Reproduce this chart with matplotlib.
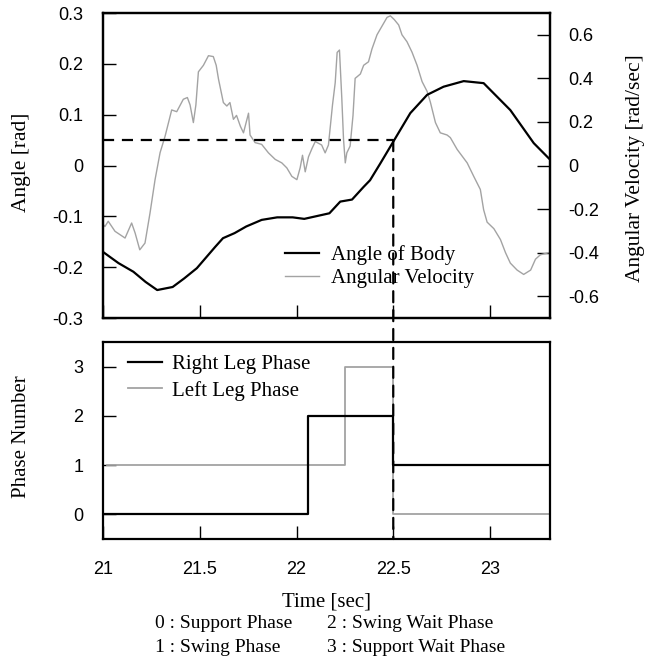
import matplotlib
matplotlib.use("Agg")
import matplotlib.pyplot as plt
from matplotlib.patches import ConnectionPatch

# Body angle [rad]
angle_t = [21.00, 21.08, 21.157, 21.22, 21.28, 21.36, 21.42, 21.485, 21.58, 21.62,
           21.68, 21.74, 21.82, 21.90, 21.98, 22.04, 22.17, 22.226, 22.287, 22.347,
           22.38, 22.433, 22.505, 22.588, 22.675, 22.76, 22.864, 22.967, 23.105, 23.226,
           23.304]
angle = [-0.170, -0.192, -0.209, -0.229, -0.245, -0.239, -0.222, -0.202, -0.160, -0.143,
         -0.133, -0.120, -0.107, -0.102, -0.102, -0.105, -0.094, -0.071, -0.067, -0.042,
         -0.029, 0.004, 0.050, 0.103, 0.139, 0.155, 0.166, 0.162, 0.109, 0.044,
         0.014]

# Angular velocity [rad/sec]
omega_t = [21.000, 21.010, 21.027, 21.062, 21.114, 21.148, 21.166, 21.190, 21.217, 21.243,
           21.269, 21.295, 21.321, 21.355, 21.381, 21.415, 21.436, 21.450, 21.467, 21.480,
           21.493, 21.519, 21.545, 21.570, 21.585, 21.597, 21.622, 21.640, 21.656, 21.674,
           21.690, 21.710, 21.726, 21.752, 21.760, 21.786, 21.820, 21.855, 21.890, 21.924,
           21.950, 21.976, 22.002, 22.019, 22.031, 22.045, 22.062, 22.080, 22.097, 22.130,
           22.148, 22.165, 22.186, 22.200, 22.210, 22.222, 22.234, 22.243, 22.252, 22.260,
           22.277, 22.292, 22.303, 22.330, 22.347, 22.372, 22.390, 22.416, 22.442, 22.468,
           22.485, 22.505, 22.528, 22.545, 22.571, 22.597, 22.623, 22.649, 22.675, 22.692,
           22.718, 22.743, 22.778, 22.795, 22.830, 22.882, 22.916, 22.950, 22.967, 22.985,
           23.020, 23.054, 23.080, 23.105, 23.140, 23.174, 23.210, 23.235, 23.260, 23.304]
omega = [-0.270, -0.280, -0.256, -0.302, -0.333, -0.264, -0.310, -0.387, -0.356, -0.218,
         -0.065, 0.059, 0.135, 0.255, 0.247, 0.304, 0.312, 0.278, 0.197, 0.278,
         0.430, 0.460, 0.504, 0.500, 0.460, 0.396, 0.289, 0.273, 0.289, 0.212,
         0.230, 0.180, 0.150, 0.240, 0.140, 0.105, 0.097, 0.058, 0.028, 0.012,
         -0.011, -0.050, -0.065, -0.010, 0.047, -0.029, 0.040, 0.078, 0.110, 0.094,
         0.058, 0.094, 0.278, 0.380, 0.519, 0.530, 0.310, 0.120, 0.012, 0.058,
         0.089, 0.230, 0.400, 0.420, 0.460, 0.476, 0.535, 0.600, 0.640, 0.680,
         0.687, 0.670, 0.645, 0.600, 0.568, 0.520, 0.460, 0.385, 0.340, 0.290,
         0.197, 0.150, 0.140, 0.128, 0.074, 0.012, -0.050, -0.110, -0.203, -0.260,
         -0.290, -0.340, -0.400, -0.448, -0.480, -0.500, -0.480, -0.430, -0.410, -0.400]

# Leg phase sequences (step changes)
right_t = [21.0, 22.06, 22.5, 23.31]
right_phase = [0, 2, 1, 1]
left_t = [21.02, 22.25, 22.5, 23.31]
left_phase = [1, 3, 0, 0]

# Marked instant
mark_t = 22.5
mark_angle = 0.05

angle_ticks = [-0.3, -0.2, -0.1, 0, 0.1, 0.2, 0.3]
angle_ticklabels = ["-0.3", "-0.2", "-0.1", "0", "0.1", "0.2", "0.3"]
omega_ticks = [-0.6, -0.4, -0.2, 0, 0.2, 0.4, 0.6]
omega_ticklabels = ["-0.6", "-0.4", "-0.2", "0", "0.2", "0.4", "0.6"]
time_ticks = [21, 21.5, 22, 22.5, 23]
time_ticklabels = ["21", "21.5", "22", "22.5", "23"]
phase_ticks = [0, 1, 2, 3]

SERIF = "Liberation Serif"
SANS = "Liberation Sans"
GRAY = "0.64"
TICK_FS = 13

fig = plt.figure(figsize=(6.46, 6.63), dpi=100)
W, H = 646, 663
AX_L, AX_R = 103, 550
AX_W = AX_R - AX_L


def box(l, t, r, b):
    return [l / W, 1 - b / H, (r - l) / W, (b - t) / H]


def ax_x(px):
    return (px - AX_L) / AX_W


ax1 = fig.add_axes(box(AX_L, 13, AX_R, 318))
ax2 = ax1.twinx()
ax3 = fig.add_axes(box(AX_L, 342, AX_R, 539))

for a in (ax1, ax2, ax3):
    for s in a.spines.values():
        s.set_linewidth(1.6)
    a.tick_params(direction="in", length=9.5, width=1.0, labelsize=TICK_FS)

xlim = (21, 23.31)

# --- top panel ---
ax1.set_xlim(*xlim)
ax1.set_ylim(-0.3, 0.3)
ax2.set_ylim(-0.7, 0.7)
ax1.set_xticks(time_ticks)
ax1.set_xticklabels([])
ax1.set_yticks(angle_ticks)
ax1.set_yticklabels(angle_ticklabels, fontfamily=SANS)
ax1.tick_params(axis="y", pad=14)
ax2.set_yticks(omega_ticks)
ax2.set_yticklabels(omega_ticklabels, fontfamily=SANS)
ax2.tick_params(axis="y", direction="in", length=9.5, width=1.0, pad=13,
                labelsize=TICK_FS)

l_ang, = ax1.plot(angle_t, angle, color="black", lw=1.6, zorder=3)
l_om, = ax2.plot(omega_t, omega, color=GRAY, lw=1.0, zorder=2)
ax1.set_zorder(ax2.get_zorder() + 1)
ax1.patch.set_visible(False)

ax1.plot([xlim[0], mark_t], [mark_angle, mark_angle], color="black", lw=1.6,
         dashes=(5, 3.5), zorder=4)

ax1.set_ylabel("Angle [rad]", fontfamily=SERIF, fontsize=15.5)
ax1.yaxis.set_label_coords(ax_x(31), 0.51)
ax2.set_ylabel("Angular Velocity [rad/sec]", fontfamily=SERIF, fontsize=15.5)
ax2.yaxis.set_label_coords(ax_x(626), 0.49)

ax1.legend([l_ang, l_om], ["Angle of Body", "Angular Velocity"],
           loc="upper left", bbox_to_anchor=(ax_x(285), 0.238), frameon=False,
           prop={"family": SERIF, "size": 15}, handlelength=1.65,
           handletextpad=0.55, labelspacing=0.15, borderaxespad=0, borderpad=0)

# --- bottom panel ---
ax3.set_xlim(*xlim)
ax3.set_ylim(-0.5, 3.5)
ax3.set_xticks(time_ticks)
ax3.set_xticklabels(time_ticklabels, fontfamily=SANS)
ax3.set_yticks(phase_ticks)
ax3.set_yticklabels([str(v) for v in phase_ticks], fontfamily=SANS)
ax3.tick_params(axis="y", pad=14)
ax3.tick_params(axis="x", pad=16)

l_r, = ax3.step(right_t, right_phase, where="post", color="black", lw=1.6, zorder=3)
l_l, = ax3.step(left_t, left_phase, where="post", color=GRAY, lw=1.3, zorder=2)

ax3.set_ylabel("Phase Number", fontfamily=SERIF, fontsize=15)
ax3.yaxis.set_label_coords(ax_x(31), 0.52)
ax3.set_xlabel("Time [sec]", fontfamily=SERIF, fontsize=15, labelpad=10)

ax3.legend([l_r, l_l], ["Right Leg Phase", "Left Leg Phase"],
           loc="upper left", bbox_to_anchor=(ax_x(128), 0.935), frameon=False,
           prop={"family": SERIF, "size": 15}, handlelength=1.65,
           handletextpad=0.45, labelspacing=0.3, borderaxespad=0, borderpad=0)

# vertical marker through both panels
con = ConnectionPatch(xyA=(mark_t, mark_angle), coordsA=ax1.transData,
                      xyB=(mark_t, -0.5), coordsB=ax3.transData,
                      color="black", lw=1.6, linestyle=(0, (5, 3.5)), zorder=5)
fig.add_artist(con)

# phase legend below the chart
rows = [("0 : ", "Support Phase", "2 : ", "Swing Wait Phase"),
        ("1 : ", "Swing Phase", "3 : ", "Support Wait Phase")]
for i, (n1, t1, n2, t2) in enumerate(rows):
    y = 1 - (624 + i * 23) / H
    fig.text(155 / W, y, n1 + t1, fontfamily=SERIF, fontsize=14, va="center")
    fig.text(327 / W, y, n2 + t2, fontfamily=SERIF, fontsize=14, va="center")

fig.savefig("out.png", dpi=100)
